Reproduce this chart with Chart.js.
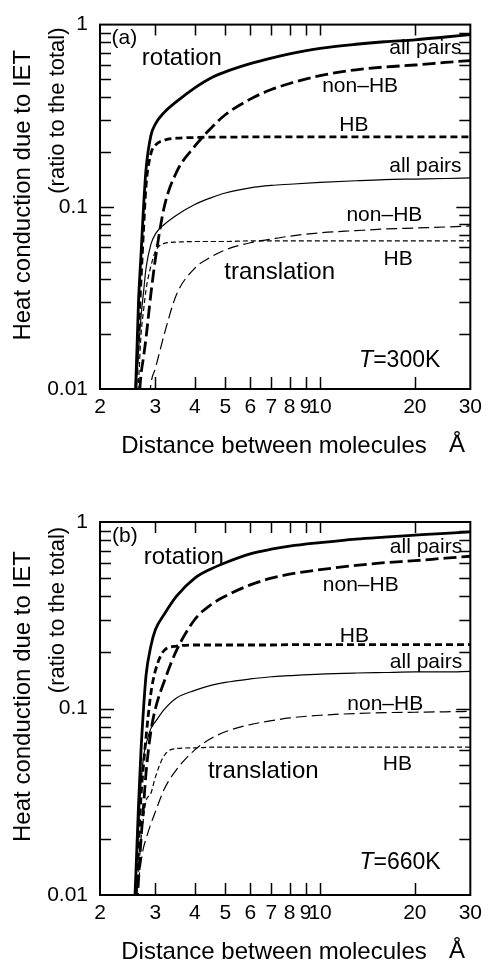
<!DOCTYPE html>
<html>
<head>
<meta charset="utf-8">
<script src="https://cdn.jsdelivr.net/npm/chart.js@4.4.1/dist/chart.umd.min.js"></script>
<style>
  body { margin: 0; background: #fff; }
  canvas { display: block; }
</style>
</head>
<body>
<canvas id="panelA" width="488" height="481"></canvas>
<canvas id="panelB" width="488" height="481"></canvas>
<script>
// distance between molecules (Å), shared by every curve
const distance = [2.55, 2.6, 2.65, 2.7, 2.75, 2.8, 2.9, 3.0, 3.2, 3.5, 4, 4.5, 5, 6, 7, 8, 10, 13, 16, 20, 25, 30];

// (a) T=300K
const rotAll300   = [0.006, 0.011, 0.03, 0.055, 0.1, 0.16, 0.245, 0.285, 0.33, 0.378, 0.45, 0.51, 0.55, 0.61, 0.655, 0.69, 0.74, 0.78, 0.805, 0.825, 0.855, 0.88];
const rotNonHB300 = [null, 0.005, 0.008, 0.012, 0.015, 0.019, 0.033, 0.052, 0.1, 0.155, 0.215, 0.27, 0.32, 0.39, 0.44, 0.475, 0.525, 0.565, 0.585, 0.6, 0.62, 0.635];
const rotHB300    = [0.006, 0.01, 0.02, 0.04, 0.075, 0.13, 0.195, 0.218, 0.232, 0.238, 0.24, 0.241, 0.241, 0.242, 0.242, 0.242, 0.242, 0.242, 0.242, 0.242, 0.242, 0.242];
const trAll300    = [0.007, 0.01, 0.016, 0.025, 0.034, 0.046, 0.062, 0.071, 0.08, 0.09, 0.103, 0.112, 0.119, 0.127, 0.131, 0.133, 0.136, 0.139, 0.141, 0.142, 0.143, 0.144];
const trNonHB300  = [null, null, null, null, null, 0.005, 0.0105, 0.013, 0.02, 0.033, 0.046, 0.053, 0.058, 0.0635, 0.0665, 0.069, 0.072, 0.074, 0.0755, 0.0765, 0.0775, 0.0785];
const trHB300     = [null, 0.008, 0.011, 0.02, 0.027, 0.035, 0.047, 0.057, 0.063, 0.064, 0.0645, 0.0645, 0.0645, 0.065, 0.065, 0.065, 0.065, 0.065, 0.065, 0.065, 0.065, 0.065];

// (b) T=660K
const rotAll660   = [0.006, 0.013, 0.03, 0.06, 0.1, 0.15, 0.215, 0.265, 0.32, 0.4, 0.5, 0.56, 0.605, 0.675, 0.715, 0.742, 0.775, 0.81, 0.83, 0.85, 0.87, 0.885];
const rotNonHB660 = [null, 0.007, 0.012, 0.02, 0.03, 0.045, 0.075, 0.1, 0.14, 0.205, 0.3, 0.36, 0.4, 0.46, 0.5, 0.525, 0.555, 0.585, 0.605, 0.62, 0.64, 0.655];
const rotHB660    = [0.006, 0.01, 0.018, 0.034, 0.05, 0.07, 0.12, 0.16, 0.205, 0.216, 0.219, 0.219, 0.219, 0.219, 0.219, 0.22, 0.22, 0.22, 0.22, 0.22, 0.22, 0.22];
const trAll660    = [0.006, 0.011, 0.022, 0.04, 0.055, 0.064, 0.078, 0.085, 0.099, 0.114, 0.125, 0.133, 0.138, 0.144, 0.148, 0.15, 0.153, 0.155, 0.156, 0.157, 0.157, 0.158];
const trNonHB660  = [null, 0.0095, 0.012, 0.015, 0.018, 0.02, 0.024, 0.028, 0.037, 0.047, 0.06, 0.069, 0.075, 0.082, 0.086, 0.089, 0.092, 0.094, 0.095, 0.0955, 0.096, 0.0965];
const trHB660     = [null, 0.009, 0.013, 0.02, 0.026, 0.032, 0.035, 0.043, 0.056, 0.061, 0.0615, 0.062, 0.062, 0.062, 0.062, 0.062, 0.062, 0.062, 0.062, 0.062, 0.062, 0.062];

// ticks
const xTickLabels = [2, 3, 4, 5, 6, 7, 8, 9, 10, 20, 30];
const xInnerTicks = [3, 4, 5, 6, 7, 8, 9, 10, 20];
const yTickLabels = [0.01, 0.1, 1];
const yMinorTicks = [0.02, 0.03, 0.04, 0.05, 0.06, 0.07, 0.08, 0.09, 0.2, 0.3, 0.4, 0.5, 0.6, 0.7, 0.8, 0.9];

const FONT = "'Liberation Sans', Arial, Helvetica, sans-serif";
const yTitle = 'Heat conduction due to IET';
const ySubTitle = '(ratio to the total)';
const xTitle = 'Distance between molecules';
const xUnit = 'Å';

// line styles: rotation = thick, translation = thin
const styles = [
  { width: 2.8, dash: [] },        // rotation all pairs
  { width: 2.8, dash: [13, 5] },   // rotation non-HB
  { width: 2.8, dash: [7, 4] },    // rotation HB
  { width: 1.2, dash: [] },        // translation all pairs
  { width: 1.2, dash: [11, 5] },   // translation non-HB
  { width: 1.2, dash: [5, 3] }     // translation HB
];

// in-plot labels, placed in data coordinates
const notesA = [
  { text: '(a)', x: 2.39, y: 0.84, size: 21 },
  { text: 'rotation', x: 3.64, y: 0.65, size: 24 },
  { text: 'all pairs', x: 21.6, y: 0.74, size: 21 },
  { text: 'non–HB', x: 13.4, y: 0.46, size: 21 },
  { text: 'HB', x: 12.8, y: 0.28, size: 21 },
  { text: 'all pairs', x: 21.6, y: 0.167, size: 21 },
  { text: 'non–HB', x: 16.0, y: 0.09, size: 21 },
  { text: 'HB', x: 17.7, y: 0.0514, size: 21 },
  { text: 'translation', x: 7.44, y: 0.0437, size: 24 },
  { text: 'T=300K', x: 17.9, y: 0.0143, size: 23, italicLead: true }
];
const notesB = [
  { text: '(b)', x: 2.4, y: 0.84, size: 21 },
  { text: 'rotation', x: 3.69, y: 0.648, size: 24 },
  { text: 'all pairs', x: 21.7, y: 0.734, size: 21 },
  { text: 'non–HB', x: 13.46, y: 0.458, size: 21 },
  { text: 'HB', x: 12.85, y: 0.244, size: 21 },
  { text: 'all pairs', x: 21.7, y: 0.177, size: 21 },
  { text: 'non–HB', x: 16.1, y: 0.106, size: 21 },
  { text: 'HB', x: 17.6, y: 0.05, size: 21 },
  { text: 'translation', x: 6.6, y: 0.0458, size: 24 },
  { text: 'T=660K', x: 17.95, y: 0.0149, size: 23, italicLead: true }
];

// frame, inward ticks and all the text around the plot
const decorPlugin = {
  id: 'decor',
  afterDatasetsDraw(chart) {
    const { ctx, chartArea: a, scales } = chart;
    const xs = scales.x, ys = scales.y;
    const notes = chart.options.plugins.decor.notes;
    ctx.save();
    ctx.strokeStyle = '#000';
    ctx.lineWidth = 2;
    ctx.strokeRect(a.left, a.top, a.right - a.left, a.bottom - a.top);

    ctx.lineWidth = 1.5;
    ctx.beginPath();
    xInnerTicks.forEach(v => {
      const p = Math.round(xs.getPixelForValue(v)) + 0.5;
      ctx.moveTo(p, a.bottom); ctx.lineTo(p, a.bottom - 12);
      ctx.moveTo(p, a.top); ctx.lineTo(p, a.top + 11);
    });
    yMinorTicks.concat([0.1]).forEach(v => {
      const p = Math.round(ys.getPixelForValue(v)) + 0.5;
      const len = v === 0.1 ? 14 : 11;
      ctx.moveTo(a.left, p); ctx.lineTo(a.left + len, p);
      ctx.moveTo(a.right, p); ctx.lineTo(a.right - len, p);
    });
    ctx.stroke();

    ctx.fillStyle = '#000';
    ctx.textBaseline = 'middle';
    notes.forEach(n => {
      const cx = xs.getPixelForValue(n.x);
      const cy = ys.getPixelForValue(n.y);
      if (n.italicLead) {
        const lead = n.text[0], rest = n.text.slice(1);
        ctx.font = 'italic ' + n.size + 'px ' + FONT;
        const w1 = ctx.measureText(lead).width;
        ctx.font = n.size + 'px ' + FONT;
        const w2 = ctx.measureText(rest).width;
        const x0 = cx - (w1 + w2) / 2;
        ctx.textAlign = 'left';
        ctx.font = 'italic ' + n.size + 'px ' + FONT;
        ctx.fillText(lead, x0, cy);
        ctx.font = n.size + 'px ' + FONT;
        ctx.fillText(rest, x0 + w1, cy);
      } else {
        ctx.textAlign = 'center';
        ctx.font = n.size + 'px ' + FONT;
        ctx.fillText(n.text, cx, cy);
      }
    });

    // axis titles
    const h = a.bottom - a.top;
    ctx.textAlign = 'center';
    ctx.save();
    ctx.translate(a.left - 77, a.top + 0.468 * h);
    ctx.rotate(-Math.PI / 2);
    ctx.font = '24px ' + FONT;
    ctx.fillText(yTitle, 0, 0);
    ctx.restore();
    ctx.save();
    ctx.translate(a.left - 42, a.top + 0.236 * h);
    ctx.rotate(-Math.PI / 2);
    ctx.font = '22px ' + FONT;
    ctx.fillText(ySubTitle, 0, 0);
    ctx.restore();

    ctx.font = '24px ' + FONT;
    ctx.fillText(xTitle, a.left + 174, a.bottom + 57);
    ctx.fillText(xUnit, a.left + 357, a.bottom + 56);
    ctx.restore();
  }
};

function makePanel(canvasId, series, notes, pad) {
  const datasets = series.map((vals, i) => ({
    data: distance.map((d, k) => ({ x: d, y: vals[k] })),
    borderColor: '#000',
    borderWidth: styles[i].width,
    borderDash: styles[i].dash,
    pointRadius: 0,
    fill: false,
    cubicInterpolationMode: 'monotone',
    spanGaps: false
  }));

  const canvas = document.getElementById(canvasId);
  new Chart(canvas.getContext('2d'), {
    type: 'line',
    data: { datasets: datasets },
    options: {
      responsive: false,
      animation: false,
      layout: { padding: { left: 0, right: pad.right, top: pad.top, bottom: 0 } },
      plugins: {
        legend: { display: false },
        tooltip: { enabled: false },
        decor: { notes: notes }
      },
      scales: {
        x: {
          type: 'logarithmic',
          min: 2,
          max: 30,
          grid: { display: false, drawTicks: false },
          border: { display: false },
          afterBuildTicks: s => { s.ticks = xTickLabels.map(v => ({ value: v })); },
          afterFit: s => { s.height = pad.xHeight; },
          ticks: {
            autoSkip: false,
            maxRotation: 0,
            padding: 6,
            color: '#000',
            font: { family: FONT, size: 21 },
            callback: v => String(v)
          }
        },
        y: {
          type: 'logarithmic',
          min: 0.01,
          max: 1,
          grid: { display: false, drawTicks: false },
          border: { display: false },
          afterBuildTicks: s => { s.ticks = yTickLabels.map(v => ({ value: v })); },
          afterFit: s => { s.width = 100; },
          ticks: {
            padding: 12,
            color: '#000',
            font: { family: FONT, size: 21 },
            callback: v => String(v)
          }
        }
      }
    },
    plugins: [decorPlugin]
  });
}

makePanel('panelA', [rotAll300, rotNonHB300, rotHB300, trAll300, trNonHB300, trHB300], notesA,
  { right: 13, top: 16, xHeight: 92 });
makePanel('panelB', [rotAll660, rotNonHB660, rotHB660, trAll660, trNonHB660, trHB660], notesB,
  { right: 11, top: 41, xHeight: 67 });
</script>
</body>
</html>
